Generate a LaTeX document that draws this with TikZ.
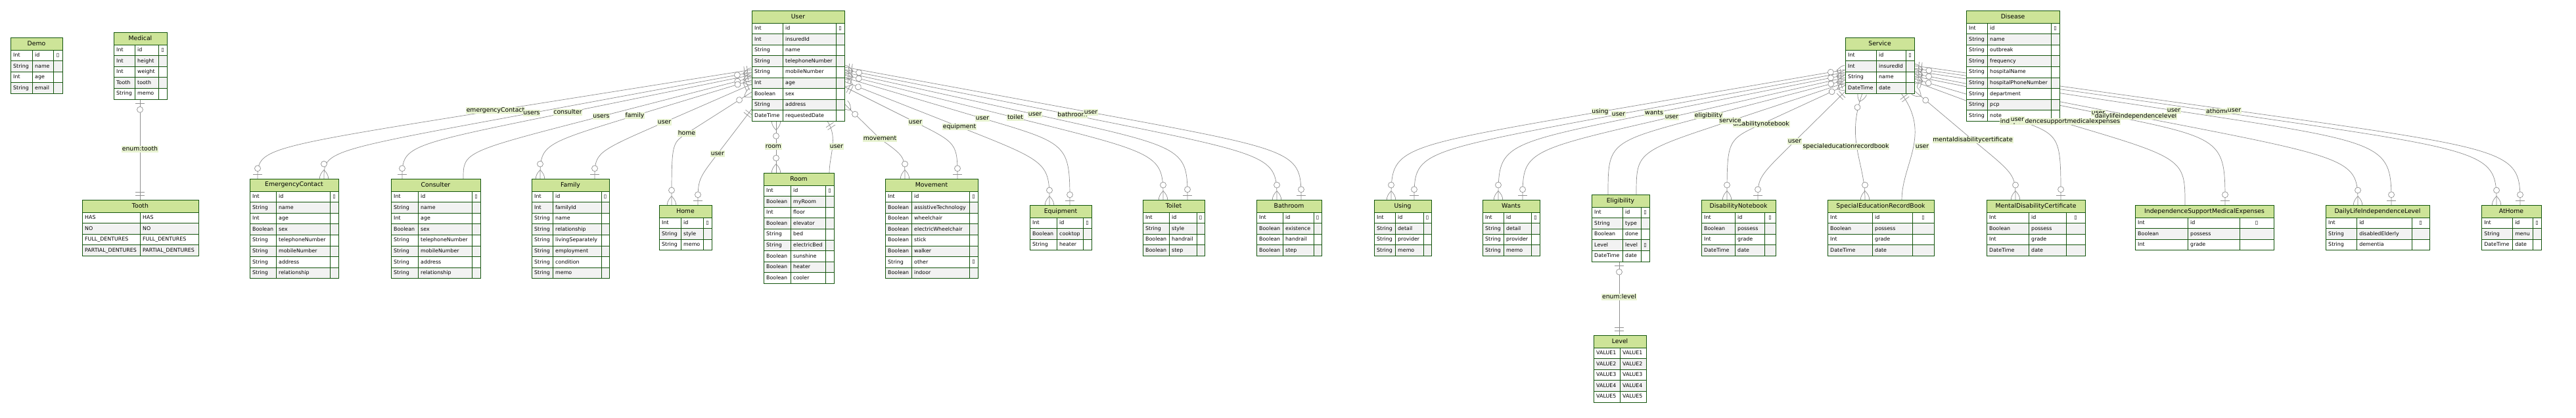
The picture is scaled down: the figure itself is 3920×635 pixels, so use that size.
\documentclass[tikz,border=0pt]{standalone}
\usepackage{fontspec}
\setmainfont{DejaVu Sans}
\usetikzlibrary{decorations.markings}
\pgfdeclarelayer{bg}
\pgfsetlayers{bg,main}

\definecolor{hdgreen}{HTML}{CDE498}
\definecolor{bordergreen}{HTML}{13540C}
\definecolor{rowgray}{HTML}{F2F2F2}
\definecolor{edgegray}{HTML}{909090}
\colorlet{lblgreen}{hdgreen!45}

\newcommand{\erhd}{\fontsize{9.3pt}{11pt}\selectfont}
\newcommand{\erbd}{\fontsize{7.9pt}{9.5pt}\selectfont}
\newcommand{\keymark}{▯}

\tikzset{
  erhead/.style={draw=bordergreen, fill=hdgreen, line width=0.9pt, inner sep=0pt, outer sep=0pt,
    minimum height=19pt, anchor=north west, font=\erhd},
  ercell/.style={draw=bordergreen, line width=0.9pt},
  ertext/.style={anchor=west, inner sep=0pt, xshift=4pt, font=\erbd, text height=5.7pt, text depth=1.5pt},
  erkey/.style={inner sep=0pt, font=\erbd},
  rel/.style={fill=lblgreen, inner sep=0.8pt, font=\erhd, text height=7pt, text depth=2pt},
  edge/.style={draw=edgegray, line width=0.7pt},
  mk/.style={draw=edgegray, line width=0.7pt},
  zmany start/.style={postaction={decorate, decoration={markings, mark=at position 0 with {
    \draw[mk] (13.5,0) .. controls (9,4.5) and (4.5,6.75) .. (0,6.75);
    \draw[mk] (13.5,0) .. controls (9,-4.5) and (4.5,-6.75) .. (0,-6.75);
    \draw[mk, fill=white] (22.5,0) circle[radius=4.5pt];}}}},
  zmany end/.style={postaction={decorate, decoration={markings, mark=at position 1 with {
    \draw[mk] (-13.5,0) .. controls (-9,4.5) and (-4.5,6.75) .. (0,6.75);
    \draw[mk] (-13.5,0) .. controls (-9,-4.5) and (-4.5,-6.75) .. (0,-6.75);
    \draw[mk, fill=white] (-22.5,0) circle[radius=4.5pt];}}}},
  one start/.style={postaction={decorate, decoration={markings, mark=at position 0 with {
    \draw[mk] (6.75,-6.75) -- (6.75,6.75);
    \draw[mk] (11.25,-6.75) -- (11.25,6.75);}}}},
  one end/.style={postaction={decorate, decoration={markings, mark=at position 1 with {
    \draw[mk] (-6.75,-6.75) -- (-6.75,6.75);
    \draw[mk] (-11.25,-6.75) -- (-11.25,6.75);}}}},
  zone start/.style={postaction={decorate, decoration={markings, mark=at position 0 with {
    \draw[mk] (6.75,-6.75) -- (6.75,6.75);
    \draw[mk, fill=white] (15.75,0) circle[radius=4.5pt];}}}},
  zone end/.style={postaction={decorate, decoration={markings, mark=at position 1 with {
    \draw[mk] (-6.75,-6.75) -- (-6.75,6.75);
    \draw[mk, fill=white] (-15.75,0) circle[radius=4.5pt];}}}},
}

% entity: id, x, y, type width, name width, key width, title, rows
\newcommand{\erentity}[8]{%
  \pgfmathsetmacro{\erw}{#4+#5+#6}
  \node[erhead, minimum width=\erw pt] (#1) at (#2,#3) {#7};
  \foreach \ty/\nm/\ky [count=\ri] in {#8} {
    \pgfmathsetmacro{\ya}{#3+19+(\ri-1)*16.6}
    \pgfmathsetmacro{\yb}{\ya+16.6}
    \pgfmathsetmacro{\ym}{\ya+8.3}
    \pgfmathsetmacro{\xa}{#2+#4}
    \pgfmathsetmacro{\xb}{#2+#4+#5}
    \pgfmathsetmacro{\xc}{#2+#4+#5+#6}
    \ifodd\ri\relax \def\rowcol{white}\else \def\rowcol{rowgray}\fi
    \filldraw[ercell, fill=\rowcol] (#2,\ya) rectangle (\xa,\yb);
    \filldraw[ercell, fill=\rowcol] (\xa,\ya) rectangle (\xb,\yb);
    \filldraw[ercell, fill=\rowcol] (\xb,\ya) rectangle (\xc,\yb);
    \node[ertext] (#1-\ri-t) at (#2,\ym) {\ty};
    \node[ertext] (#1-\ri-n) at (\xa,\ym) {\nm};
    \if K\ky \node[erkey] (#1-\ri-k) at ({(\xb+\xc)/2},\ym) {\keymark};\fi
  }%
}

\begin{document}
\begin{tikzpicture}[x=1pt, y=-1pt]
\useasboundingbox (0,0) rectangle (3920,635);

% left group
\erentity{demo}{16}{57}{33}{32}{14}{Demo}{Int/id/K,String/name/-,Int/age/-,String/email/-}
\erentity{medical}{173}{49}{32}{36}{13}{Medical}{Int/id/K,Int/height/-,Int/weight/-,Tooth/tooth/-,String/memo/-}
\erentity{tooth}{125}{304}{88}{89}{0}{Tooth}{HAS/HAS/-,NO/NO/-,FULL\_DENTURES/FULL\_DENTURES/-,PARTIAL\_DENTURES/PARTIAL\_DENTURES/-}

% user and its children
\erentity{user}{1144}{16}{47}{81}{13}{User}{Int/id/K,Int/insuredId/-,String/name/-,String/telephoneNumber/-,String/mobileNumber/-,Int/age/-,Boolean/sex/-,String/address/-,DateTime/requestedDate/-}
\erentity{ec}{380}{272}{40}{82}{13}{EmergencyContact}{Int/id/K,String/name/-,Int/age/-,Boolean/sex/-,String/telephoneNumber/-,String/mobileNumber/-,String/address/-,String/relationship/-}
\erentity{cons}{595}{272}{41}{82}{13}{Consulter}{Int/id/K,String/name/-,Int/age/-,Boolean/sex/-,String/telephoneNumber/-,String/mobileNumber/-,String/address/-,String/relationship/-}
\erentity{family}{809}{272}{32}{74}{12}{Family}{Int/id/K,Int/familyId/-,String/name/-,String/relationship/-,String/livingSeparately/-,String/employment/-,String/condition/-,String/memo/-}
\erentity{home}{1003}{312}{33}{34}{13}{Home}{Int/id/K,String/style/-,String/memo/-}
\erentity{room}{1162}{263}{41}{53}{13}{Room}{Int/id/K,Boolean/myRoom/-,Int/floor/-,Boolean/elevator/-,String/bed/-,String/electricBed/-,Boolean/sunshine/-,Boolean/heater/-,Boolean/cooler/-}
\erentity{mov}{1347}{272}{40}{88}{13}{Movement}{Int/id/K,Boolean/assistiveTechnology/-,Boolean/wheelchair/-,Boolean/electricWheelchair/-,Boolean/stick/-,Boolean/walker/-,String/other/K,Boolean/indoor/-}
\erentity{equip}{1567}{312}{41}{40}{13}{Equipment}{Int/id/K,Boolean/cooktop/-,String/heater/-}
\erentity{toilet}{1739}{304}{40}{42}{12}{Toilet}{Int/id/K,String/style/-,Boolean/handrail/-,Boolean/step/-}
\erentity{bath}{1912}{304}{40}{47}{12}{Bathroom}{Int/id/K,Boolean/existence/-,Boolean/handrail/-,Boolean/step/-}

% service and its children
\erentity{service}{2808}{57}{47}{45}{13}{Service}{Int/id/K,Int/insuredId/-,String/name/-,DateTime/date/-}
\erentity{disease}{2992}{16}{32}{97}{13}{Disease}{Int/id/K,String/name/-,String/outbreak/-,String/frequency/-,String/hospitalName/-,String/hospitalPhoneNumber/-,String/department/-,String/pcp/-,String/note/-}
\erentity{using}{2091}{304}{32}{43}{12}{Using}{Int/id/K,String/detail/-,String/provider/-,String/memo/-}
\erentity{wants}{2256}{304}{32}{42}{13}{Wants}{Int/id/K,String/detail/-,String/provider/-,String/memo/-}
\erentity{elig}{2422}{296}{47}{28}{13}{Eligibility}{Int/id/K,String/type/-,Boolean/done/-,Level/level/K,DateTime/date/-}
\erentity{level}{2425}{510}{40}{40}{0}{Level}{VALUE1/VALUE1/-,VALUE2/VALUE2/-,VALUE3/VALUE3/-,VALUE4/VALUE4/-,VALUE5/VALUE5/-}
\erentity{dnb}{2589}{304}{51}{45}{17}{DisabilityNotebook}{Int/id/K,Boolean/possess/-,Int/grade/-,DateTime/date/-}
\erentity{serb}{2781}{304}{68}{61}{33}{SpecialEducationRecordBook}{Int/id/K,Boolean/possess/-,Int/grade/-,DateTime/date/-}
\erentity{mdc}{3023}{304}{64}{57}{29}{MentalDisabilityCertificate}{Int/id/K,Boolean/possess/-,Int/grade/-,DateTime/date/-}
\erentity{isme}{3249}{312}{80}{79}{52}{IndependenceSupportMedicalExpenses}{Int/id/K,Boolean/possess/-,Int/grade/-}
\erentity{dlil}{3539}{312}{47}{84}{27}{DailyLifeIndependenceLevel}{Int/id/K,String/disabledElderly/-,String/dementia/-}
\erentity{athome}{3776}{312}{47}{31}{13}{AtHome}{Int/id/K,String/menu/-,DateTime/date/-}

\begin{pgfonlayer}{bg}
\fill[white] (0,0) rectangle (3920,635);
% enums
\draw[edge, zone start, one end] ([shift={(40,102)}]medical.north west) -- ([shift={(88,0)}]tooth.north west);
\draw[edge, zone start, one end] ([shift={(42,102)}]elig.north west) -- ([shift={(39,0)}]level.north west);
% user, left side
\draw[edge, one start, zone end] ([shift={(0,90)}]user.north west) -- (754,168) .. controls (392,226) .. ([shift={(12,0)}]ec.north west);
\draw[edge, zmany start, zmany end] ([shift={(0,94)}]user.north west) -- (809,172) .. controls (493,230) .. ([shift={(113,0)}]ec.north west);
\draw[edge, one start, zone end] ([shift={(0,98)}]user.north west) -- (864,171) .. controls (612,222) .. ([shift={(17,0)}]cons.north west);
\draw[edge, zmany start, zmany end] ([shift={(0,102)}]user.north west) -- (915,177) .. controls (705,231) .. ([shift={(110,0)}]cons.north west);
\draw[edge, zmany start, zmany end] ([shift={(0,106)}]user.north west) -- (966,176) .. controls (822,220) .. ([shift={(13,0)}]family.north west);
\draw[edge, one start, zone end] ([shift={(0,112)}]user.north west) -- (1011,186) .. controls (905,232) .. ([shift={(96,0)}]family.north west);
\draw[edge, zmany start, zmany end] ([shift={(0,124)}]user.north west) -- (1045,203) .. controls (1022,218) .. ([shift={(19,0)}]home.north west);
\draw[edge, one start, zone end] ([shift={(0,150)}]user.north west) -- (1092,234) .. controls (1062,273) .. ([shift={(59,0)}]home.north west);
% user, bottom
\draw[edge, zmany start, zmany end] ([shift={(37,168.4)}]user.north west) -- ([shift={(19,0)}]room.north west);
\draw[edge, one start, zone end] ([shift={(115,168.4)}]user.north west) .. controls (1276,210) and (1262,236) .. ([shift={(100,0)}]room.north west);
% user, right side
\draw[edge, zmany start, zmany end] ([shift={(0,142)}]user.north east) -- (1339,211) .. controls (1377,238) .. ([shift={(30,0)}]mov.north west);
\draw[edge, one start, zone end] ([shift={(0,116)}]user.north east) -- (1393,186) .. controls (1457,218) .. ([shift={(110,0)}]mov.north west);
\draw[edge, zmany start, zmany end] ([shift={(0,108)}]user.north east) -- (1460,193) .. controls (1597,247) .. ([shift={(30,0)}]equip.north west);
\draw[edge, one start, zone end] ([shift={(0,102)}]user.north east) -- (1495,180) .. controls (1628,219) .. ([shift={(61,0)}]equip.north west);
\draw[edge, zmany start, zmany end] ([shift={(0,98)}]user.north east) -- (1545,179) .. controls (1770,235) .. ([shift={(31,0)}]toilet.north west);
\draw[edge, one start, zone end] ([shift={(0,94)}]user.north east) -- (1575,174) .. controls (1807,225) .. ([shift={(68,0)}]toilet.north west);
\draw[edge, zmany start, zmany end] ([shift={(0,90)}]user.north east) -- (1632,175) .. controls (1943,237) .. ([shift={(31,0)}]bath.north west);
\draw[edge, one start, zone end] ([shift={(0,86)}]user.north east) -- (1660,171) .. controls (1980,230) .. ([shift={(68,0)}]bath.north west);
% service, left side
\draw[edge, zmany start, zmany end] ([shift={(0,49)}]service.north west) -- (2435,170) .. controls (2117,225) .. ([shift={(26,0)}]using.north west);
\draw[edge, one start, zone end] ([shift={(0,53)}]service.north west) -- (2463,174) .. controls (2152,232) .. ([shift={(61,0)}]using.north west);
\draw[edge, zmany start, zmany end] ([shift={(0,57)}]service.north west) -- (2517,172) .. controls (2280,220) .. ([shift={(24,0)}]wants.north west);
\draw[edge, one start, zone end] ([shift={(0,61)}]service.north west) -- (2544,178) .. controls (2317,230) .. ([shift={(61,0)}]wants.north west);
\draw[edge, zmany start, zmany end] ([shift={(0,65)}]service.north west) -- (2600,176) .. controls (2447,216) .. ([shift={(25,0)}]elig.north west);
\draw[edge, one start, zone end] ([shift={(0,69)}]service.north west) -- (2633,184) .. controls (2490,231) .. ([shift={(68,0)}]elig.north west);
\draw[edge, zmany start, zmany end] ([shift={(0,73)}]service.north west) -- (2680,189) .. controls (2628,213) .. ([shift={(39,0)}]dnb.north west);
\draw[edge, one start, zone end] ([shift={(0,82)}]service.north west) -- (2731,215) .. controls (2675,270) .. ([shift={(86,0)}]dnb.north west);
% service, bottom
\draw[edge, zmany start, zmany end] ([shift={(26,85)}]service.north west) .. controls (2808,215) and (2838,245) .. ([shift={(57,0)}]serb.north west);
\draw[edge, one start, zone end] ([shift={(85,85)}]service.north west) .. controls (2940,205) and (2894,250) .. ([shift={(113,0)}]serb.north west);
% service, right side
\draw[edge, zmany start, zmany end] ([shift={(0,81)}]service.north east) -- (3002,213) .. controls (3067,266) .. ([shift={(44,0)}]mdc.north west);
\draw[edge, one start, zone end] ([shift={(0,67)}]service.north east) -- (3070,182) .. controls (3136,206) .. ([shift={(113,0)}]mdc.north west);
\draw[edge, zmany start, zmany end] ([shift={(0,63)}]service.north east) -- (3135,185) .. controls (3325,241) .. ([shift={(76,0)}]isme.north west);
\draw[edge, one start, zone end] ([shift={(0,59)}]service.north east) -- (3193,172) .. controls (3386,211) .. ([shift={(137,0)}]isme.north west);
\draw[edge, zmany start, zmany end] ([shift={(0,55)}]service.north east) -- (3250,177) .. controls (3588,242) .. ([shift={(49,0)}]dlil.north west);
\draw[edge, one start, zone end] ([shift={(0,51)}]service.north east) -- (3308,168) .. controls (3639,218) .. ([shift={(100,0)}]dlil.north west);
\draw[edge, zmany start, zmany end] ([shift={(0,47)}]service.north east) -- (3375,170) .. controls (3799,231) .. ([shift={(23,0)}]athome.north west);
\draw[edge, one start, zone end] ([shift={(0,43)}]service.north east) -- (3400,168) .. controls (3835,229) .. ([shift={(59,0)}]athome.north west);
\end{pgfonlayer}

% relation labels
\node[rel] (lb-tooth) at (213,227) {enum:tooth};
\node[rel] (lb-level) at (2464,452) {enum:level};
\node[rel] (lb-ec-a) at (754,168) {emergencyContact};
\node[rel] (lb-ec-b) at (809,172) {users};
\node[rel] (lb-cons-a) at (864,171) {consulter};
\node[rel] (lb-cons-b) at (915,177) {users};
\node[rel] (lb-fam-a) at (966,176) {family};
\node[rel] (lb-fam-b) at (1011,186) {user};
\node[rel] (lb-home-a) at (1045,203) {home};
\node[rel] (lb-home-b) at (1092,234) {user};
\node[rel] (lb-room-a) at (1177,223) {room};
\node[rel] (lb-room-b) at (1273,223) {user};
\node[rel] (lb-mov-a) at (1339,211) {movement};
\node[rel] (lb-mov-b) at (1393,186) {user};
\node[rel] (lb-eq-a) at (1460,193) {equipment};
\node[rel] (lb-eq-b) at (1495,180) {user};
\node[rel] (lb-to-a) at (1545,179) {toilet};
\node[rel] (lb-to-b) at (1575,174) {user};
\node[rel] (lb-ba-a) at (1632,175) {bathroom};
\node[rel] (lb-ba-b) at (1660,171) {user};
\node[rel] (lb-us-a) at (2435,170) {using};
\node[rel] (lb-us-b) at (2463,174) {user};
\node[rel] (lb-wa-a) at (2517,172) {wants};
\node[rel] (lb-wa-b) at (2544,178) {user};
\node[rel] (lb-el-a) at (2600,176) {eligibility};
\node[rel] (lb-dn-a) at (2680,189) {disabilitynotebook};
\node[rel] (lb-el-b) at (2633,184) {service};
\node[rel] (lb-dn-b) at (2731,215) {user};
\node[rel] (lb-se-a) at (2809,223) {specialeducationrecordbook};
\node[rel] (lb-se-b) at (2925,223) {user};
\node[rel] (lb-me-a) at (3002,213) {mentaldisabilitycertificate};
\node[rel] (lb-in-a) at (3135,185) {independencesupportmedicalexpenses};
\node[rel] (lb-me-b) at (3070,182) {user};
\node[rel] (lb-in-b) at (3193,172) {user};
\node[rel] (lb-dl-a) at (3250,177) {dailylifeindependencelevel};
\node[rel] (lb-dl-b) at (3308,168) {user};
\node[rel] (lb-ah-a) at (3375,170) {athome};
\node[rel] (lb-ah-b) at (3400,168) {user};
\end{tikzpicture}
\end{document}
